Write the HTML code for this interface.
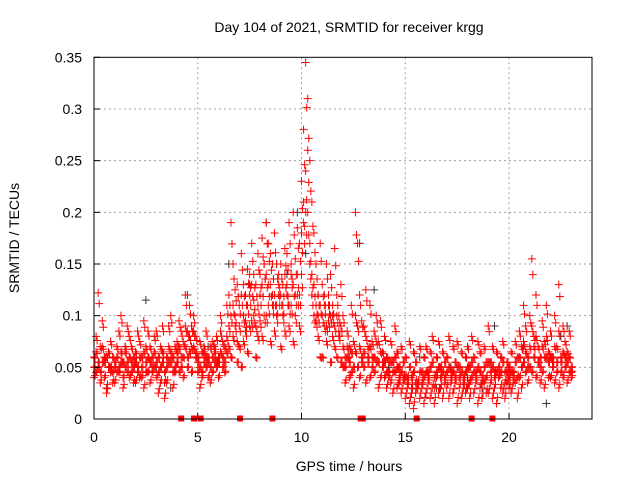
<!DOCTYPE html>
<html><head><meta charset="utf-8"><style>
html,body{margin:0;padding:0;background:#fff;}
svg{display:block;font-family:"Liberation Sans",sans-serif;}
</style></head><body>
<svg id="chart" width="640" height="480">
<rect width="640" height="480" fill="#fff"/>
<text x="349" y="32" font-size="14" text-anchor="middle">Day 104 of 2021, SRMTID for receiver krgg</text>
<text transform="translate(19,238) rotate(-90)" font-size="14" text-anchor="middle">SRMTID / TECUs</text>
<text x="349" y="471" font-size="14" text-anchor="middle">GPS time / hours</text>
<g id="grid"></g><g id="marks"></g><g id="axes"></g>
</svg>
<script>
const xTicks=[0,5,10,15,20];
const yTicks=[0,0.05,0.1,0.15,0.2,0.25,0.3,0.35];
const yTickLabels=["0","0.05","0.1","0.15","0.2","0.25","0.3","0.35"];
const hours=[0,0.1,0.2,0.3,0.4,0.5,0.6,0.7,0.8,0.9,1,1.1,1.2,1.3,1.4,1.5,1.6,1.7,1.8,1.9,2,2.1,2.2,2.3,2.4,2.5,2.6,2.7,2.8,2.9,3,3.1,3.2,3.3,3.4,3.5,3.6,3.7,3.8,3.9,4,4.1,4.2,4.3,4.4,4.5,4.6,4.7,4.8,4.9,5,5.1,5.2,5.3,5.4,5.5,5.6,5.7,5.8,5.9,6,6.1,6.2,6.3,6.4,6.5,6.6,6.7,6.8,6.9,7,7.1,7.2,7.3,7.4,7.5,7.6,7.7,7.8,7.9,8,8.1,8.2,8.3,8.4,8.5,8.6,8.7,8.8,8.9,9,9.1,9.2,9.3,9.4,9.5,9.6,9.7,9.8,9.9,10,10.1,10.2,10.3,10.4,10.5,10.6,10.7,10.8,10.9,11,11.1,11.2,11.3,11.4,11.5,11.6,11.7,11.8,11.9,12,12.1,12.2,12.3,12.4,12.5,12.6,12.7,12.8,12.9,13,13.1,13.2,13.3,13.4,13.5,13.6,13.7,13.8,13.9,14,14.1,14.2,14.3,14.4,14.5,14.6,14.7,14.8,14.9,15,15.1,15.2,15.3,15.4,15.5,15.6,15.7,15.8,15.9,16,16.1,16.2,16.3,16.4,16.5,16.6,16.7,16.8,16.9,17,17.1,17.2,17.3,17.4,17.5,17.6,17.7,17.8,17.9,18,18.1,18.2,18.3,18.4,18.5,18.6,18.7,18.8,18.9,19,19.1,19.2,19.3,19.4,19.5,19.6,19.7,19.8,19.9,20,20.1,20.2,20.3,20.4,20.5,20.6,20.7,20.8,20.9,21,21.1,21.2,21.3,21.4,21.5,21.6,21.7,21.8,21.9,22,22.1,22.2,22.3,22.4,22.5,22.6,22.7,22.8,22.9,23];
const redA=[60,45,122,70,55,40,30,65,50,45,55,70,50,100,40,65,55,80,45,60,65,50,75,40,95,55,45,70,60,80,40,25,70,55,20,60,90,65,45,70,55,95,60,40,120,85,110,90,70,80,45,30,65,70,50,60,35,75,55,80,60,85,50,70,110,90,190,150,100,130,110,160,75,120,145,90,170,100,130,160,140,175,100,190,130,160,110,180,150,120,150,100,165,130,190,110,200,155,120,170,230,280,345,310,250,210,180,150,120,170,130,90,150,110,140,80,165,120,100,130,100,60,85,40,110,75,200,170,120,95,90,125,70,110,60,85,100,75,95,65,80,60,45,75,55,90,65,40,70,55,60,40,75,30,65,55,35,70,45,60,70,45,65,80,40,60,75,50,65,55,60,80,45,70,55,75,50,65,40,60,70,50,80,60,45,75,65,40,70,55,90,55,70,45,65,50,60,75,45,55,50,65,40,75,60,85,70,110,90,60,100,155,80,120,70,60,95,75,110,65,85,60,100,70,130,55,90,75,65,85,50];
const redB=[40,80,50,35,95,60,25,50,75,35,35,45,85,55,30,50,90,40,70,35,35,85,40,60,30,70,85,35,45,50,85,60,35,90,45,35,55,100,30,50,75,45,85,60,70,50,65,45,100,60,60,75,40,55,85,40,70,45,65,50,40,100,75,45,65,120,60,80,125,55,70,50,130,85,65,140,95,115,60,80,95,80,150,100,170,75,120,85,100,140,70,130,85,160,90,140,75,100,185,90,140,190,200,260,170,120,100,95,80,60,60,120,75,95,55,100,70,60,85,55,50,35,60,70,45,30,65,50,40,60,50,35,60,40,75,45,55,30,40,50,40,30,55,35,25,45,30,50,25,35,20,30,15,40,10,25,35,20,30,15,25,35,20,30,15,40,25,30,20,35,30,20,35,25,40,15,30,20,35,25,30,20,40,25,35,15,30,20,35,25,25,35,20,30,15,40,30,25,20,35,30,25,45,35,20,40,30,55,45,35,50,45,70,40,55,35,45,30,60,40,40,50,35,45,30,60,40,50,35,45,40];
const redC=[50,65,55,45,70,55,60,50,45,60,50,60,45,65,55,70,45,60,55,50,55,45,60,50,65,45,60,55,50,65,55,45,50,65,35,50,70,55,60,45,65,70,50,75,90,60,80,70,85,65,55,50,45,65,60,55,50,60,70,55,55,65,60,55,80,70,100,110,90,75,90,120,100,95,110,120,130,140,90,110,120,130,150,140,110,130,150,120,110,130,120,110,140,120,110,150,130,120,140,120,180,210,240,200,150,140,130,110,100,110,100,110,90,120,100,110,90,100,80,90,70,50,70,55,65,50,100,90,70,55,65,80,55,70,50,60,75,55,65,55,55,45,40,55,45,60,50,35,45,40,40,35,50,25,45,35,30,45,35,40,45,40,50,55,30,45,50,40,45,40,45,50,40,45,35,50,40,45,30,45,50,35,55,45,40,50,45,35,50,40,55,45,50,40,45,40,45,55,35,45,40,45,35,55,40,60,50,75,65,50,70,90,60,80,55,50,70,60,80,55,60,55,70,55,85,45,65,60,55,60,45];
const blackHours=[0.5,1.5,2.5,3.0,3.7,4.5,5.5,6.5,7.5,8.3,8.8,9.3,9.8,10.2,10.8,11.5,12.3,12.8,13.5,14.2,15.0,15.7,16.5,17.2,18.0,18.7,19.3,20.0,20.7,21.3,21.8,22.5,22.8];
const blackValues=[0.06,0.07,0.115,0.05,0.03,0.12,0.07,0.15,0.13,0.19,0.15,0.14,0.2,0.16,0.12,0.1,0.06,0.17,0.125,0.05,0.04,0.06,0.03,0.05,0.04,0.03,0.09,0.05,0.07,0.12,0.015,0.08,0.09];
const gapHours=[4.2,4.82,5.14,7.04,8.6,12.85,12.95,15.55,18.2,19.2];

const X0=94,X1=592,Y0=419,Y1=57.3,XMAX=24,YMAX=0.35;
const xs=h=>X0+(X1-X0)*h/XMAX;
const ys=v=>Y0-(Y0-Y1)*v/YMAX;
const NS="http://www.w3.org/2000/svg";
function mk(tag,parent,attrs){const e=document.createElementNS(NS,tag);for(const k in attrs)e.setAttribute(k,attrs[k]);parent.appendChild(e);return e;}
const grid=document.getElementById('grid'),marks=document.getElementById('marks'),axes=document.getElementById('axes');

xTicks.forEach((t,i)=>{
  if(t>0){const g=mk('line',grid,{x1:xs(t),x2:xs(t),y1:Y1,y2:Y0,stroke:'#a0a0a0','stroke-dasharray':'2,3'});
  
  }
  const tl=mk('text',axes,{x:xs(t),y:Y0+23,'font-size':14,'text-anchor':'middle'});tl.textContent=String(t);
  
  
  mk('line',axes,{x1:xs(t),x2:xs(t),y1:Y0,y2:Y0-6,stroke:'#000'});
});
yTicks.forEach((t,i)=>{
  if(t>0&&t<YMAX){const g=mk('line',grid,{x1:X0,x2:X1,y1:ys(t),y2:ys(t),stroke:'#a0a0a0','stroke-dasharray':'2,3'});
  
  }
  const tl=mk('text',axes,{x:X0-12,y:ys(t)+5,'font-size':14,'text-anchor':'end'});tl.textContent=yTickLabels[i];
  
  
  mk('line',axes,{x1:X0,x2:X0+6,y1:ys(t),y2:ys(t),stroke:'#000'});
});
const frame=mk('rect',axes,{x:X0,y:Y1,width:X1-X0,height:Y0-Y1,fill:'none',stroke:'#000'});



function plus(h,v,color){
  const x=xs(h),y=ys(v);
  const p=mk('path',marks,{d:`M${x-4},${y}H${x+4}M${x},${y-4}V${y+4}`,stroke:color,'stroke-width':1,fill:'none'});
  return p;
}
blackHours.forEach((h,i)=>{
  const p=plus(h,blackValues[i],'#333');
  
  
});
[redA,redB,redC].forEach(arr=>{
  arr.forEach((v,i)=>{
    const p=plus(hours[i],v/1000,'#ff0000');
    
    
    const q=plus(hours[i]+0.05,(v*0.85+8)/1000,'#ff0000');
    
    
  });
});
gapHours.forEach(h=>{
  const r=mk('rect',marks,{x:xs(h)-3,y:Y0-3.5,width:6,height:6,fill:'#ff0000'});
  
  
});
</script>
</body></html>
